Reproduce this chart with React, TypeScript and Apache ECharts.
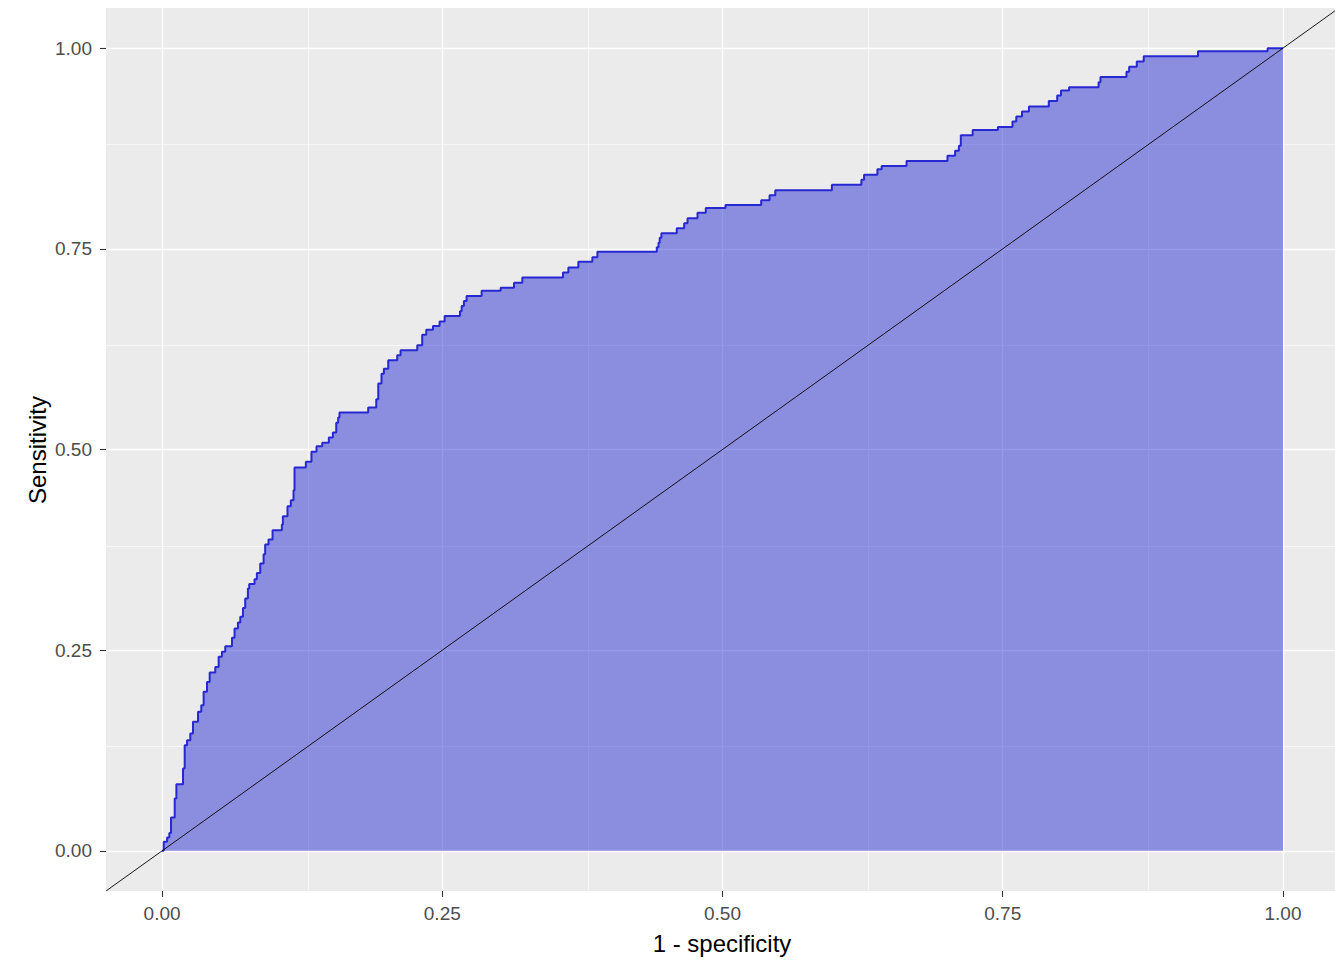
import React, { useEffect, useRef } from "react";
import * as echarts from "echarts";

// ROC curve: false positive rate (1 - specificity) and true positive rate (sensitivity)
const fpr = [
  0, 0.0015, 0.0045, 0.0065, 0.008, 0.0113, 0.0128, 0.0187, 0.0202, 0.0223,
  0.0252, 0.0276, 0.0321, 0.035, 0.0371, 0.0401, 0.0425, 0.0475, 0.0505, 0.0534,
  0.0564, 0.0624, 0.0647, 0.0677, 0.0698, 0.0722, 0.0742, 0.0766, 0.0778, 0.0825,
  0.0846, 0.0876, 0.0906, 0.092, 0.095, 0.0986, 0.1069, 0.1078, 0.1119, 0.1149,
  0.1173, 0.1182, 0.1283,
  0.1333, 0.1378, 0.1429, 0.1488, 0.1524, 0.1554, 0.1571, 0.1583, 0.1839, 0.1911,
  0.1929, 0.1958, 0.1979, 0.2018, 0.2098, 0.2128, 0.2277, 0.2321, 0.2357, 0.2417,
  0.2476, 0.2521, 0.2658, 0.2673, 0.2693, 0.2717, 0.2851, 0.3021, 0.314, 0.3214,
  0.3577, 0.3625, 0.3714, 0.3839, 0.3884, 0.4414, 0.4429, 0.444, 0.4455, 0.4592,
  0.4658, 0.4688, 0.4777, 0.4851,
  0.5027, 0.5345, 0.542, 0.5471, 0.5976, 0.6239, 0.6263, 0.6382, 0.642, 0.6642,
  0.7007, 0.7075, 0.7109, 0.7126, 0.7232, 0.7457, 0.7587, 0.7621, 0.7672, 0.7734,
  0.7911, 0.7986, 0.802, 0.8092, 0.8355, 0.8372, 0.8604, 0.8628, 0.8696, 0.8758,
  0.9242, 0.9863, 1.0,
];
const tpr = [
  0, 0.0112, 0.0166, 0.0224, 0.0415, 0.0652, 0.0831, 0.1026, 0.1316, 0.1379,
  0.1462, 0.1607, 0.1732, 0.1815, 0.1981, 0.2105, 0.2222, 0.2292, 0.2417, 0.2479,
  0.255, 0.2654, 0.277, 0.2845, 0.2915, 0.3027, 0.3144, 0.3268, 0.3326, 0.3385,
  0.3463, 0.358, 0.3696, 0.3816, 0.3879, 0.3995, 0.4066, 0.4169, 0.4294, 0.4369,
  0.4493, 0.4776, 0.4846,
  0.4971, 0.5041, 0.5083, 0.5149, 0.5211, 0.5332, 0.5398, 0.546, 0.5522, 0.5626,
  0.5821, 0.5945, 0.6007, 0.6111, 0.6173, 0.6235, 0.6298, 0.643, 0.6493, 0.6538,
  0.6596, 0.6663, 0.6721, 0.6787, 0.6849, 0.6911, 0.6978, 0.7015, 0.7077, 0.7143,
  0.7206, 0.7268, 0.7338, 0.7396, 0.7463, 0.7521, 0.7575, 0.7637, 0.7695, 0.7757,
  0.7819, 0.7881, 0.7948, 0.801,
  0.8045, 0.8104, 0.8167, 0.823, 0.8297, 0.836, 0.8423, 0.849, 0.8532, 0.8595,
  0.8658, 0.8721, 0.8784, 0.8914, 0.8981, 0.9018, 0.9086, 0.9149, 0.9211, 0.9274,
  0.9341, 0.9409, 0.9471, 0.9513, 0.9576, 0.9639, 0.9706, 0.9769, 0.9832, 0.9899,
  0.9962, 1.0, 1.0,
];

const majorTicks = [0, 0.25, 0.5, 0.75, 1.0];
const minorTicks = [0.125, 0.375, 0.625, 0.875];
const axisMin = -0.05;
const axisMax = 1.05;
const diagonal = [
  [axisMin, axisMin],
  [axisMax, axisMax],
];

const xTitle = "1 - specificity";
const yTitle = "Sensitivity";

const FONT = "'Liberation Sans', Arial, sans-serif";

export default function App() {
  const ref = useRef<HTMLDivElement>(null);

  useEffect(() => {
    if (!ref.current) return;
    const chart = echarts.init(ref.current, undefined, { renderer: "svg" });

    const curve = fpr.map((x, i) => [x, tpr[i]]);

    const gridLines = [
      ...majorTicks.map((v) => ({ xAxis: v, lineStyle: { width: 1.3 } })),
      ...majorTicks.map((v) => ({ yAxis: v, lineStyle: { width: 1.3 } })),
      ...minorTicks.map((v) => ({ xAxis: v, lineStyle: { width: 0.6 } })),
      ...minorTicks.map((v) => ({ yAxis: v, lineStyle: { width: 0.6 } })),
    ];

    const axisCommon = {
      type: "value",
      min: axisMin,
      max: axisMax,
      axisLine: {
        show: true,
        onZero: false,
        lineStyle: { color: "rgba(0,0,0,0)", width: 0 },
      },
      splitLine: { show: false },
      axisTick: {
        show: true,
        inside: false,
        length: 6,
        customValues: majorTicks,
        lineStyle: { color: "#333333", width: 1.1 },
      },
      axisLabel: {
        customValues: majorTicks,
        formatter: (v: number) => v.toFixed(2),
        color: "#4D4D4D",
        fontSize: 19,
        fontFamily: FONT,
      },
    };

    chart.setOption({
      animation: false,
      backgroundColor: "#FFFFFF",
      grid: {
        left: 106,
        top: 8,
        width: 1233,
        height: 883,
        show: true,
        backgroundColor: "#EBEBEB",
        borderWidth: 0,
      },
      xAxis: {
        ...axisCommon,
        axisLabel: { ...axisCommon.axisLabel, margin: 13 },
      },
      yAxis: {
        ...axisCommon,
        axisLabel: { ...axisCommon.axisLabel, margin: 14 },
      },
      graphic: [
        {
          type: "text",
          x: 722,
          y: 943,
          style: {
            text: xTitle,
            fill: "#000000",
            font: `24px ${FONT}`,
            textAlign: "center",
            textVerticalAlign: "middle",
          },
        },
        {
          type: "text",
          x: 37,
          y: 450,
          rotation: Math.PI / 2,
          style: {
            text: yTitle,
            fill: "#000000",
            font: `24px ${FONT}`,
            textAlign: "center",
            textVerticalAlign: "middle",
          },
        },
      ],
      series: [
        {
          type: "line",
          name: "grid",
          data: [[0, 0]],
          showSymbol: false,
          symbol: "none",
          lineStyle: { opacity: 0 },
          silent: true,
          z: 1,
          markLine: {
            z: 1,
            silent: true,
            symbol: ["none", "none"],
            label: { show: false },
            lineStyle: { color: "#FFFFFF", type: "solid" },
            emphasis: { disabled: true },
            data: gridLines,
          },
        },
        {
          type: "line",
          name: "ROC",
          data: curve,
          step: "end",
          symbol: "none",
          showSymbol: false,
          z: 2,
          lineStyle: { color: "#2828D2", width: 2 },
          areaStyle: { color: "rgba(22,26,206,0.45)", opacity: 1, origin: 0 },
        },
        {
          type: "line",
          name: "diag",
          data: diagonal,
          symbol: "none",
          showSymbol: false,
          z: 3,
          lineStyle: { color: "#000000", width: 0.9 },
        },
      ],
    });

    return () => chart.dispose();
  }, []);

  return (
    <div
      style={{
        position: "absolute",
        left: 0,
        top: 0,
        width: 1335,
        height: 964,
        overflow: "hidden",
      }}
    >
      <div ref={ref} style={{ width: 1345, height: 964 }} />
    </div>
  );
}
